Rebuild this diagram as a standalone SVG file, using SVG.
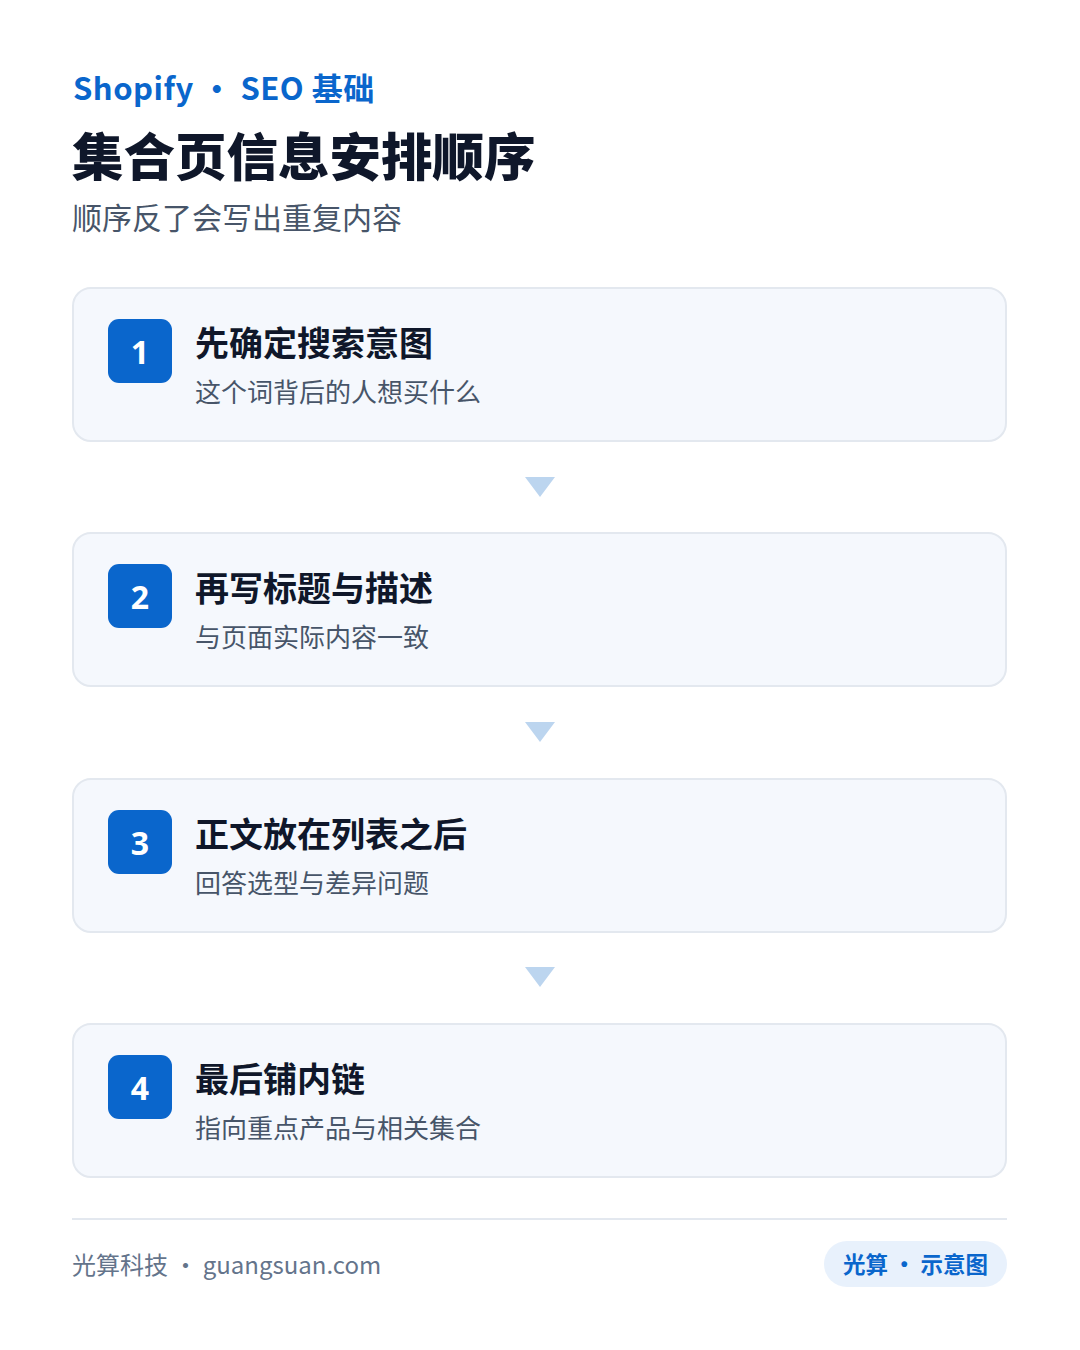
<svg xmlns="http://www.w3.org/2000/svg" width="1080" height="1350" viewBox="0 0 1080 1350">
<style>
.bg{fill:#ffffff}
.card{fill:#f5f8fd;stroke:#e3e8ef;stroke-width:2}
.badge{fill:#0a66cc}
.num{font-family:"Noto Sans","Noto Sans CJK SC",sans-serif;font-weight:700;font-size:32px;fill:#ffffff;text-anchor:middle}
.t{font-family:"Noto Sans CJK SC",sans-serif;font-weight:700;font-size:34px;fill:#0f172a}
.s{font-family:"Noto Sans CJK SC",sans-serif;font-size:26px;fill:#475569}
.arrow{fill:#bcd5ef}
</style>
<rect class="bg" x="0" y="0" width="1080" height="1350"/>
<g id="header">
<text x="73" y="100" font-family="'Noto Sans CJK SC',sans-serif" font-weight="700" font-size="31" fill="#0a66cc" letter-spacing="0.5">Shopify · SEO 基础</text>
<text x="72" y="176" font-family="'Noto Sans CJK SC',sans-serif" font-weight="900" font-size="51.5" fill="#0f172a">集合页信息安排顺序</text>
<text x="72" y="229" font-family="'Noto Sans CJK SC',sans-serif" font-size="30" fill="#475569">顺序反了会写出重复内容</text>
</g>
<g id="connectors">
<polygon class="arrow" points="525,477 555,477 540,497"/>
<polygon class="arrow" points="525,722 555,722 540,742"/>
<polygon class="arrow" points="525,967 555,967 540,987"/>
</g>
<g id="step1">
<rect class="card" x="73" y="288" width="933" height="153" rx="18"/>
<rect class="badge" x="108" y="319" width="64" height="64" rx="11"/>
<text class="num" x="140" y="364">1</text>
<text class="t" x="195" y="356">先确定搜索意图</text>
<text class="s" x="195" y="402">这个词背后的人想买什么</text>
</g>
<g id="step2">
<rect class="card" x="73" y="533" width="933" height="153" rx="18"/>
<rect class="badge" x="108" y="564" width="64" height="64" rx="11"/>
<text class="num" x="140" y="609">2</text>
<text class="t" x="195" y="601">再写标题与描述</text>
<text class="s" x="195" y="647">与页面实际内容一致</text>
</g>
<g id="step3">
<rect class="card" x="73" y="779" width="933" height="153" rx="18"/>
<rect class="badge" x="108" y="810" width="64" height="64" rx="11"/>
<text class="num" x="140" y="855">3</text>
<text class="t" x="195" y="847">正文放在列表之后</text>
<text class="s" x="195" y="893">回答选型与差异问题</text>
</g>
<g id="step4">
<rect class="card" x="73" y="1024" width="933" height="153" rx="18"/>
<rect class="badge" x="108" y="1055" width="64" height="64" rx="11"/>
<text class="num" x="140" y="1100">4</text>
<text class="t" x="195" y="1092">最后铺内链</text>
<text class="s" x="195" y="1138">指向重点产品与相关集合</text>
</g>
<g id="footer">
<rect x="72" y="1218" width="935" height="2" fill="#e3e8ef"/>
<text x="72" y="1274" font-family="'Noto Sans CJK SC',sans-serif" font-size="24" fill="#64748b">光算科技 · guangsuan.com</text>
<rect x="824" y="1241" width="183" height="46" rx="23" fill="#e8f1fc"/>
<text x="915.5" y="1273" text-anchor="middle" font-family="'Noto Sans CJK SC',sans-serif" font-weight="700" font-size="22.5" fill="#0a66cc">光算 · 示意图</text>
</g>
</svg>
